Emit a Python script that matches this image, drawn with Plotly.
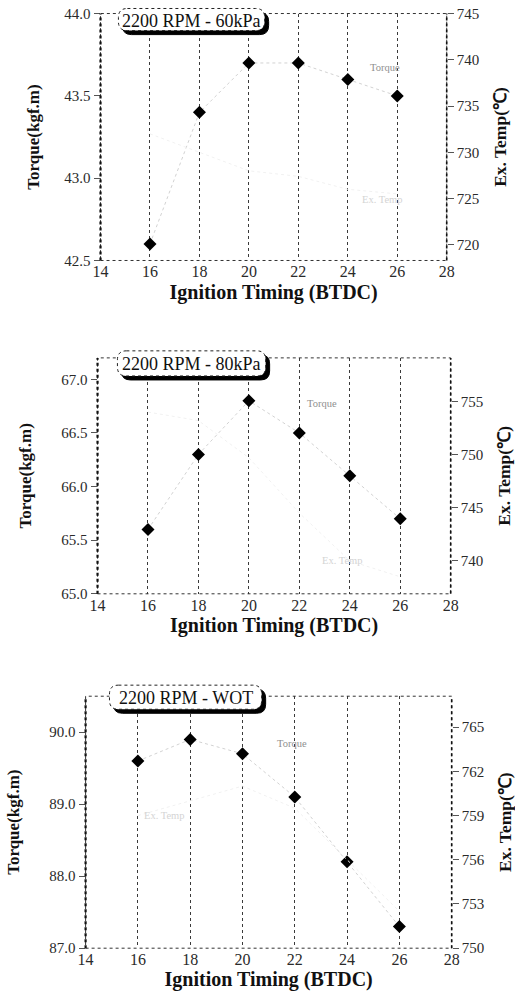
import plotly.graph_objects as go

# ---------------- data ----------------
timing = [16, 18, 20, 22, 24, 26]
x_ticks = [14, 16, 18, 20, 22, 24, 26, 28]

panel_titles = ["2200 RPM - 60kPa", "2200 RPM - 80kPa", "2200 RPM - WOT"]

torque_60 = [42.6, 43.4, 43.7, 43.7, 43.6, 43.5]
torque_80 = [65.6, 66.3, 66.8, 66.5, 66.1, 65.7]
torque_wot = [89.6, 89.9, 89.7, 89.1, 88.2, 87.3]

temp_60 = [732, 730, 728, 727.4, 726, 725.5]
temp_80 = [754, 753.2, 749.7, 744.5, 740, 738.5]
temp_wot = [759, 760, 761, 759.5, 756, 752.5]

torque_ticks_60 = [42.5, 43.0, 43.5, 44.0]
torque_ticks_80 = [65.0, 65.5, 66.0, 66.5, 67.0]
torque_ticks_wot = [87.0, 88.0, 89.0, 90.0]
temp_ticks_60 = [720, 725, 730, 735, 740, 745]
temp_ticks_80 = [740, 745, 750, 755]
temp_ticks_wot = [750, 753, 756, 759, 762, 765]

W, H = 515, 992
SERIF = "Liberation Serif"

panels = [
    dict(title=panel_titles[0], torque=torque_60, temp=temp_60,
         xdom=(100, 448), ydom=(15, 261), yr=[42.5, 44.0005], yt=torque_ticks_60,
         y2r=[718.3, 745.01], y2t=temp_ticks_60, box=(118, 265, 10, 32),
         tl=(25.5, 43.67), el=(25.4, 42.87), lstand=20, rstand=15),
    dict(title=panel_titles[1], torque=torque_80, temp=temp_80,
         xdom=(97, 452), ydom=(358, 593), yr=[65.0, 67.2], yt=torque_ticks_80,
         y2r=[736.9, 759.1], y2t=temp_ticks_80, box=(117, 266, 351, 376),
         tl=(22.9, 66.77), el=(23.7, 65.31), lstand=25, rstand=15),
    dict(title=panel_titles[2], torque=torque_wot, temp=temp_wot,
         xdom=(85, 453), ydom=(695, 946), yr=[87.0, 90.5], yt=torque_ticks_wot,
         y2r=[750.0, 767.1], y2t=temp_ticks_wot, box=(109, 262, 684, 708),
         tl=(21.9, 89.85), el=(17.0, 88.85), lstand=25, rstand=16),
]


# target picture pixels -> figure pixels (measured placement of the page in the picture)
def fx(r):
    return (r - 7.0) / 0.974


def fy(r):
    return (r - 9.5) / 0.98


def px(x):
    return fx(x) / W


def py(y):
    return 1 - fy(y) / H


def rrect(x0, y0, x1, y1, r):
    pts = [
        ("M", [(x0 + r, y0)]),
        ("L", [(x1 - r, y0)]),
        ("Q", [(x1, y0), (x1, y0 + r)]),
        ("L", [(x1, y1 - r)]),
        ("Q", [(x1, y1), (x1 - r, y1)]),
        ("L", [(x0 + r, y1)]),
        ("Q", [(x0, y1), (x0, y1 - r)]),
        ("L", [(x0, y0 + r)]),
        ("Q", [(x0, y0), (x0 + r, y0)]),
    ]
    s = ""
    for cmd, pp in pts:
        s += cmd + " " + " ".join(f"{px(a):.5f},{py(b):.5f}" for a, b in pp) + " "
    return s + "Z"


fig = go.Figure()
layout = dict(
    width=W, height=H,
    margin=dict(l=0, r=0, t=0, b=0),
    paper_bgcolor="white", plot_bgcolor="white",
    showlegend=False,
    font=dict(family=SERIF, color="#111", size=14),
)
shapes = []
annotations = []

for i, p in enumerate(panels):
    xn = "" if i == 0 else str(i + 1)
    yl = "" if i == 0 else str(2 * i + 1)
    yr = str(2 * i + 2)
    xid, ylid, yrid = "x" + xn, "y" + yl, "y" + yr

    fig.add_trace(go.Scatter(
        x=timing, y=p["temp"], xaxis=xid, yaxis=yrid, mode="lines",
        line=dict(color="#f1f1f1", width=1, dash="dot"), hoverinfo="skip"))
    fig.add_trace(go.Scatter(
        x=timing, y=p["torque"], xaxis=xid, yaxis=ylid, mode="lines+markers",
        line=dict(color="#d2d2d2", width=1, dash="dot"),
        marker=dict(symbol="diamond", size=10, color="black")))

    layout["xaxis" + xn] = dict(
        domain=[px(p["xdom"][0]), px(p["xdom"][1])], anchor=ylid,
        range=[14, 28], tickvals=x_ticks, ticks="", showline=False,
        showgrid=True, gridcolor="#3a3a3a", griddash="dot", gridwidth=1.2,
        zeroline=False, ticklabeloverflow="allow",
        tickfont=dict(family=SERIF, size=16, color="#2a2a2a"),
        title=dict(text="<b>Ignition Timing (BTDC)</b>",
                   font=dict(family=SERIF, size=20, color="#111"),
                   standoff=5 if i < 2 else 2),
    )
    layout["yaxis" + yl] = dict(
        domain=[py(p["ydom"][1]), py(p["ydom"][0])], anchor=xid,
        range=p["yr"], tickvals=p["yt"], tickformat=".1f",
        ticks="outside", ticklen=6, tickcolor="#555", showgrid=False,
        zeroline=False, showline=False, ticklabeloverflow="allow",
        tickfont=dict(family=SERIF, size=15, color="#2a2a2a"),
        title=dict(text="<b>Torque(kgf.m)</b>",
                   font=dict(family=SERIF, size=17, color="#111"),
                   standoff=p["lstand"]),
    )
    layout["yaxis" + yr] = dict(
        domain=[py(p["ydom"][1]), py(p["ydom"][0])], anchor=xid,
        overlaying=ylid, side="right",
        range=p["y2r"], tickvals=p["y2t"],
        ticks="outside", ticklen=6, tickcolor="#555", showgrid=False,
        zeroline=False, showline=False, ticklabeloverflow="allow",
        tickfont=dict(family=SERIF, size=15, color="#2a2a2a"),
        title=dict(text="<b>Ex. Temp(℃)</b>",
                   font=dict(family=SERIF, size=17.5, color="#111"),
                   standoff=p["rstand"]),
    )

    # dotted frame
    shapes.append(dict(type="rect", xref=xid + " domain", yref=ylid + " domain",
                       x0=0, x1=1, y0=0, y1=1,
                       line=dict(color="#333", width=1, dash="dot")))
    shapes.append(dict(type="line", xref=xid + " domain", yref=ylid + " domain",
                       x0=0, x1=0, y0=0, y1=1,
                       line=dict(color="#111", width=2.2, dash="dot")))
    shapes.append(dict(type="line", xref=xid + " domain", yref=ylid + " domain",
                       x0=1, x1=1, y0=0, y1=1,
                       line=dict(color="#111", width=1.6, dash="dot")))

    # title box with shadow
    bx0, bx1, by0, by1 = p["box"]
    shapes.append(dict(type="path", xref="paper", yref="paper", layer="above",
                       path=rrect(bx0 + 4, by0 + 4, bx1 + 4, by1 + 4, 9),
                       fillcolor="black", line=dict(color="black", width=1)))
    shapes.append(dict(type="path", xref="paper", yref="paper", layer="above",
                       path=rrect(bx0, by0, bx1, by1, 9),
                       fillcolor="white", line=dict(color="#222", width=1, dash="dot")))
    annotations.append(dict(xref="paper", yref="paper",
                            x=px((bx0 + bx1) / 2), y=py((by0 + by1) / 2 + 1),
                            text=p["title"], showarrow=False,
                            font=dict(family=SERIF, size=18, color="#111"),
                            xanchor="center", yanchor="middle"))
    # faint series labels
    annotations.append(dict(xref=xid, yref=ylid, x=p["tl"][0], y=p["tl"][1],
                            text="Torque", showarrow=False,
                            font=dict(family=SERIF, size=10.5, color="#8f8f8f")))
    annotations.append(dict(xref=xid, yref=ylid, x=p["el"][0], y=p["el"][1],
                            text="Ex. Temp", showarrow=False,
                            font=dict(family=SERIF, size=10.5, color="#d4d4d4")))

layout["shapes"] = shapes
layout["annotations"] = annotations
fig.update_layout(**layout)
fig.write_html(
    "out.html",
    config={"displayModeBar": False},
    post_script="document.body.style.margin='0';document.body.style.overflow='hidden';",
)
